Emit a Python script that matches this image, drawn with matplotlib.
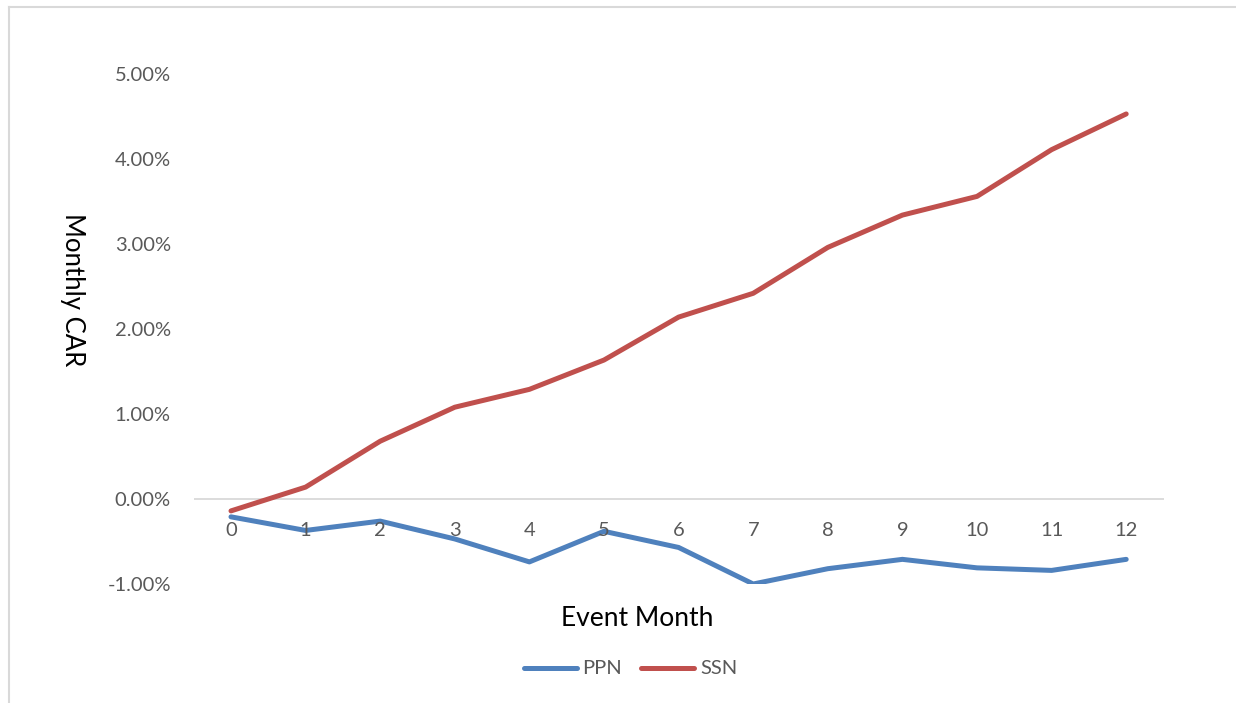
import matplotlib
matplotlib.use("Agg")
import matplotlib.pyplot as plt
from matplotlib.lines import Line2D
from matplotlib.ticker import FuncFormatter

months = list(range(13))
tick_labels = [str(m) for m in months]
ppn = [-0.21, -0.37, -0.26, -0.47, -0.74, -0.38, -0.57, -1.00, -0.82, -0.71, -0.81, -0.84, -0.71]
ssn = [-0.14, 0.14, 0.68, 1.08, 1.29, 1.635, 2.14, 2.42, 2.96, 3.34, 3.56, 4.11, 4.53]
y_ticks = [-1, 0, 1, 2, 3, 4, 5]

plt.rcParams['font.family'] = ['Lato', 'DejaVu Sans']

W, H = 1236, 703
fig = plt.figure(figsize=(W / 100, H / 100), dpi=100)
fig.patch.set_facecolor('white')

# plot area in pixels
x0, x1 = 193.7, 1163.5
ytop, ybot = 74, 584
ax = fig.add_axes([x0 / W, 1 - ybot / H, (x1 - x0) / W, (ybot - ytop) / H])
ax.set_xlim(-0.5, 12.5)
ax.set_ylim(-1, 5)

blue = '#4f81bd'
red = '#c0504d'
ax.plot(months, ppn, color=blue, lw=3.6, solid_capstyle='round', solid_joinstyle='round', zorder=3)
ax.plot(months, ssn, color=red, lw=3.6, solid_capstyle='round', solid_joinstyle='round', zorder=3)

for s in ax.spines.values():
    s.set_visible(False)
ax.axhline(0, color='#d9d9d9', lw=1.3, zorder=1)

ax.set_yticks(y_ticks)
ax.yaxis.set_major_formatter(FuncFormatter(lambda v, p: f"{v:.2f}%"))
ax.tick_params(axis='y', length=0, pad=16.5, labelsize=14.5, labelcolor='#595959')
ax.set_xticks([])

for m, lab in zip(months, tick_labels):
    ax.annotate(lab, xy=(m, 0), xytext=(0, -31), textcoords='offset pixels',
                ha='center', va='center', fontsize=14.5, color='#595959')

fig.text(637 / W, 1 - 618 / H, 'Event Month', ha='center', va='center', fontsize=19, color='black')
fig.text(72 / W, 1 - 290 / H, 'Monthly CAR', ha='center', va='center', fontsize=18.5,
         color='black', rotation=-90)

# legend
fig.add_artist(Line2D([524 / W, 577 / W], [1 - 668 / H] * 2, color=blue, lw=3.6, solid_capstyle='round'))
fig.text(582 / W, 1 - 668 / H, 'PPN', ha='left', va='center', fontsize=14.5, color='#595959')
fig.add_artist(Line2D([641 / W, 694 / W], [1 - 668 / H] * 2, color=red, lw=3.6, solid_capstyle='round'))
fig.text(700 / W, 1 - 668 / H, 'SSN', ha='left', va='center', fontsize=14.5, color='#595959')

# chart border (left and top)
fig.add_artist(Line2D([8.5 / W, 8.5 / W], [0, 1 - 6.5 / H], color='#d9d9d9', lw=1.5))
fig.add_artist(Line2D([8.5 / W, 1], [1 - 6.5 / H] * 2, color='#d9d9d9', lw=1.5))

fig.savefig('out.png', dpi=100, facecolor='white')
